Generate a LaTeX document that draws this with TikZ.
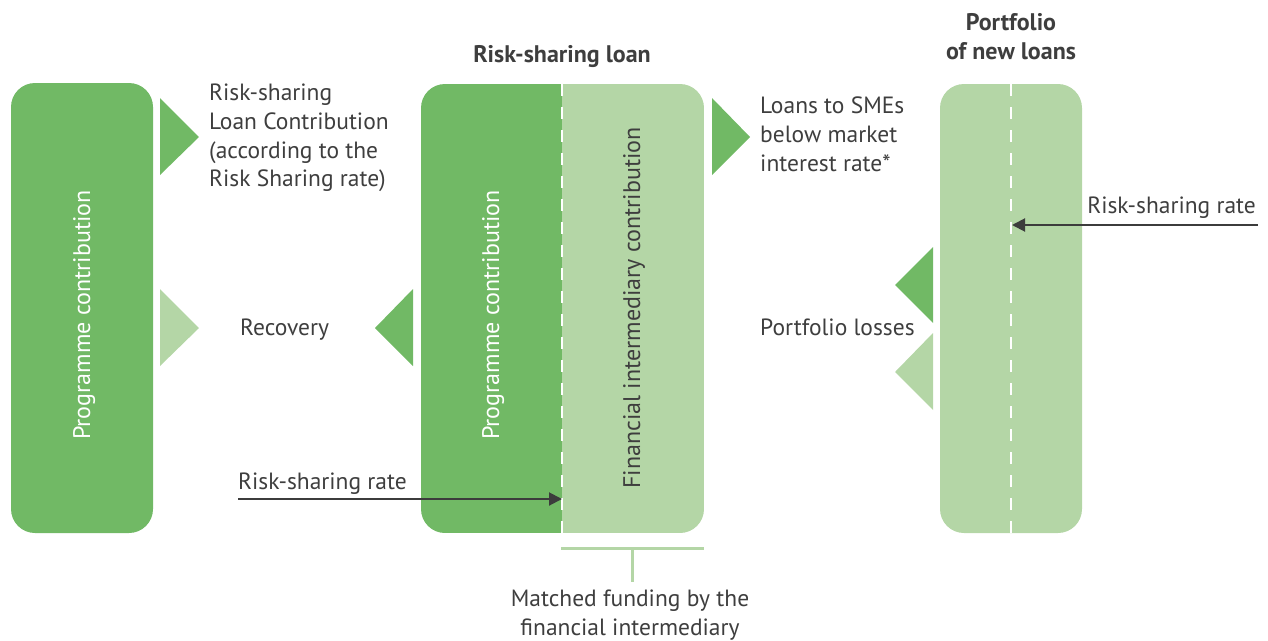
\documentclass[tikz,border=0pt]{standalone}
\usepackage{fontspec}
\setmainfont{PT Sans}
\usetikzlibrary{arrows.meta}
\definecolor{dgreen}{RGB}{113,185,101}
\definecolor{lgreen}{RGB}{180,214,166}
\definecolor{txt}{RGB}{62,62,62}
\definecolor{arr}{RGB}{60,60,60}
\tikzset{
  box/.style={rounded corners=24pt, inner sep=0pt, outer sep=0pt},
  lbl/.style={font=\fontsize{23.5}{28.7}\selectfont, text=txt, inner sep=0pt, align=left},
  ttl/.style={font=\fontsize{24}{29}\selectfont\bfseries, text=txt, inner sep=0pt, align=center},
  vlbl/.style={font=\fontsize{24}{28}\selectfont, inner sep=0pt, rotate=90, anchor=base},
  dashw/.style={white, line width=1.6pt, dash pattern=on 12pt off 11pt},
  rsarrow/.style={arr, line width=2pt, -{Triangle[length=13pt,width=13pt]}},
  brack/.style={lgreen, line width=3pt}
}
\begin{document}
\begin{tikzpicture}[x=1pt,y=-1pt]
\useasboundingbox (0,0) rectangle (1268,640);
% left box
\fill[dgreen, box] (11,83) rectangle (153,533);
\coordinate (lbNW) at (11,83);
\node[vlbl, white] (lbtxt) at (90,315) {Programme contribution};
% middle box
\coordinate (mNW) at (421,84);
\coordinate (mSE) at (704,533);
\coordinate (mTop) at (562,84);
\coordinate (mBot) at (562,533);
\begin{scope}
  \clip[box] (mNW) rectangle (mSE);
  \fill[dgreen] (mNW) rectangle (mBot);
  \fill[lgreen] (mTop) rectangle (mSE);
\end{scope}
\draw[dashw] (mTop) -- (mBot);
\node[vlbl, white] (mtxt1) at (499,315) {Programme contribution};
\node[vlbl, txt] (mtxt2) at (640,308) {Financial intermediary contribution};
\node[ttl, anchor=base] (mttl) at (562,62) {Risk-sharing loan};
% right box
\coordinate (rNW) at (940,84);
\coordinate (rSE) at (1082,533);
\coordinate (rTop) at (1011,84);
\coordinate (rBot) at (1011,533);
\fill[lgreen, box] (rNW) rectangle (rSE);
\draw[dashw] (rTop) -- (rBot);
\node[ttl, anchor=base] (rttl1) at (1011,30) {Portfolio};
\node[ttl, anchor=base] (rttl2) at (1011,59) {of new loans};
% triangles
\fill[dgreen] (160,98) -- (199,137) -- (160,175) -- cycle;
\fill[lgreen] (160,289) -- (199,328) -- (160,366) -- cycle;
\fill[dgreen] (413,289) -- (375,328) -- (413,366) -- cycle;
\fill[dgreen] (712,98) -- (750,137) -- (712,175) -- cycle;
\fill[dgreen] (933,247) -- (895,285) -- (933,323) -- cycle;
\fill[lgreen] (933,333) -- (895,372) -- (933,410) -- cycle;
% labels
\node[lbl, anchor=base west] (t1) at (209,186.7) {Risk-sharing\\Loan Contribution\\(according to the\\Risk Sharing rate)};
\node[lbl, anchor=base west] (t2) at (240,335) {Recovery};
\node[lbl, anchor=base west] (t3) at (760,171) {Loans to SMEs\\below market\\interest rate*};
\node[lbl, anchor=base west] (t4) at (760,335) {Portfolio losses};
\node[lbl, anchor=base east] (t5) at (1256,213) {Risk-sharing rate};
\node[lbl, anchor=base west] (t6) at (238,489) {Risk-sharing rate};
\node[lbl, align=center, anchor=base] (t7) at (630,635) {Matched funding by the\\financial intermediary};
% arrows
\coordinate (a1s) at (1258,225);
\coordinate (a1e) at (1012,225);
\draw[rsarrow] (a1s) -- (a1e);
\coordinate (a2s) at (238,499);
\coordinate (a2e) at (562,499);
\draw[rsarrow] (a2s) -- (a2e);
% bracket
\coordinate (bL) at (561,548);
\coordinate (bR) at (704,548);
\coordinate (bM) at (632.5,548);
\coordinate (bD) at (632.5,582);
\draw[brack] (bL) -- (bR);
\draw[brack] (bM) -- (bD);
\end{tikzpicture}
\end{document}
